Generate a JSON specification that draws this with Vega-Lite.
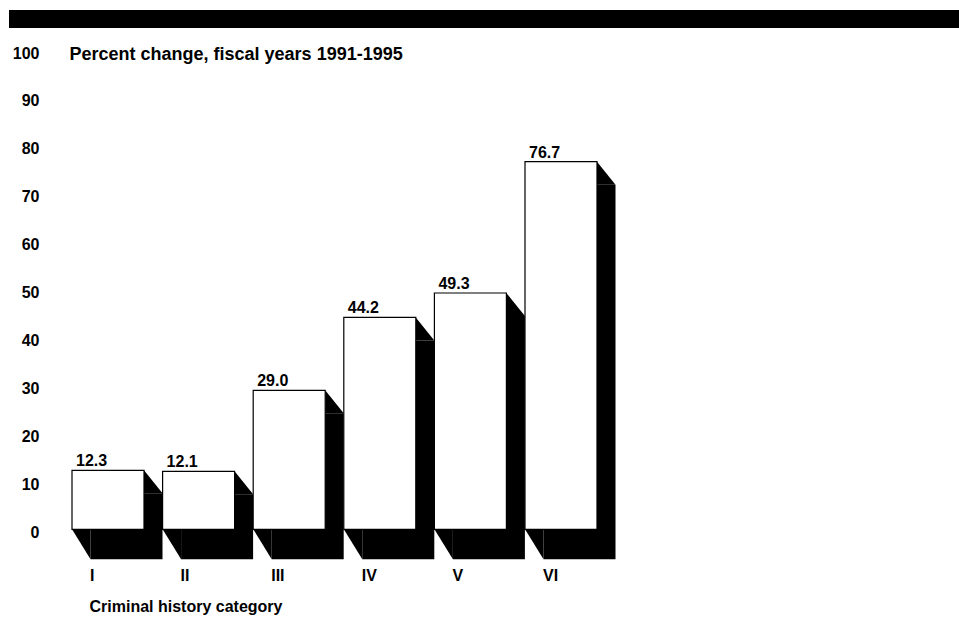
{
  "$schema": "https://vega.github.io/schema/vega-lite/v6.json",
  "background": "white",
  "padding": {"left": 9, "top": 10, "right": 0, "bottom": 0},
  "autosize": {"type": "pad"},
  "config": {"view": {"stroke": null}, "font": "Liberation Sans"},
  "bounds": "flush",
  "spacing": 22,
  "vconcat": [
    {
      "width": 950,
      "height": 18,
      "view": {"fill": "black", "stroke": null},
      "data": {"values": []},
      "mark": "point",
      "encoding": {}
    },
    {
      "width": 950,
      "height": 479.3,
      "data": {
        "values": [
          {"category": "I", "value": 12.3},
          {"category": "II", "value": 12.1},
          {"category": "III", "value": 29.0},
          {"category": "IV", "value": 44.2},
          {"category": "V", "value": 49.3},
          {"category": "VI", "value": 76.7}
        ]
      },
      "encoding": {
        "x": {
          "field": "category",
          "type": "nominal",
          "sort": null,
          "scale": {"range": [63, 588], "paddingInner": 0.2053, "paddingOuter": 0},
          "axis": {
            "title": "Criminal history category",
            "domain": false,
            "ticks": false,
            "tickSize": 0,
            "labelAngle": 0,
            "labelAlign": "left",
            "labelBaseline": "middle",
            "labelOffset": -18,
            "labelPadding": 46,
            "labelFontSize": 16,
            "labelFontWeight": "bold",
            "labelColor": "black",
            "titleFontSize": 16,
            "titleFontWeight": "bold",
            "titleColor": "black",
            "titleAlign": "left",
            "titleBaseline": "middle",
            "titleX": 80,
            "titleY": 77
          }
        }
      },
      "layer": [
        {
          "mark": {"type": "bar", "color": "black", "xOffset": 18.5, "x2Offset": 18.5, "yOffset": 23, "y2Offset": 30, "clip": false},
          "encoding": {
            "y": {
              "field": "value",
              "type": "quantitative",
              "scale": {"domain": [0, 100], "nice": false, "zero": true},
              "axis": {
                "orient": "left",
                "offset": -30,
                "values": [0, 10, 20, 30, 40, 50, 60, 70, 80, 90, 100],
                "domain": false,
                "ticks": false,
                "tickSize": 0,
                "grid": false,
                "labelPadding": 0,
                "labelOffset": 3,
                "labelFontSize": 16,
                "labelFontWeight": "bold",
                "labelColor": "black",
                "title": "Percent change, fiscal years 1991-1995",
                "titleAngle": 0,
                "titleAlign": "left",
                "titleBaseline": "middle",
                "titleX": 30,
                "titleY": 4,
                "titleFontSize": 18,
                "titleFontWeight": "bold",
                "titleColor": "black"
              }
            },
            "y2": {"datum": 0}
          }
        },
        {
          "mark": {"type": "point", "shape": "M36,0L54.5,23L36,23Z", "size": 4, "filled": true, "color": "black", "opacity": 1, "strokeWidth": 0},
          "encoding": {"y": {"field": "value", "type": "quantitative"}}
        },
        {
          "mark": {"type": "point", "shape": "M-36,0L-17.5,30L-17.5,0Z", "size": 4, "filled": true, "color": "black", "opacity": 1, "strokeWidth": 0},
          "encoding": {"y": {"datum": 0, "type": "quantitative"}}
        },
        {
          "mark": {"type": "bar", "fill": "white", "stroke": "black", "strokeWidth": 1.2},
          "encoding": {
            "y": {"field": "value", "type": "quantitative"},
            "y2": {"datum": 0}
          }
        },
        {
          "mark": {"type": "text", "align": "left", "baseline": "alphabetic", "dx": -32, "dy": -4, "fontSize": 16, "fontWeight": "bold", "color": "black"},
          "encoding": {
            "y": {"field": "value", "type": "quantitative"},
            "text": {"field": "value", "type": "quantitative", "format": ".1f"}
          }
        }
      ]
    }
  ]
}
